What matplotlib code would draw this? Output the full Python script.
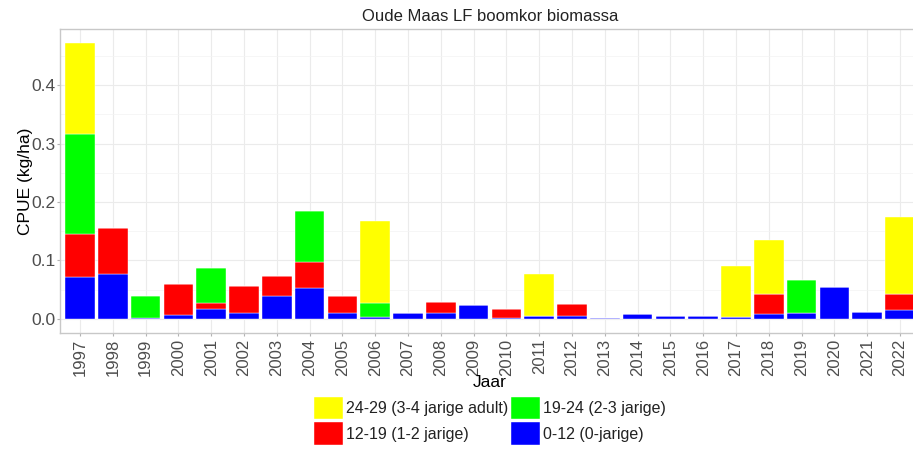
import matplotlib
matplotlib.use("Agg")
import matplotlib.pyplot as plt
import numpy as np

plt.rcParams['font.family'] = ['Liberation Sans', 'DejaVu Sans']

years = list(range(1997, 2023))
# segment values (kg/ha), stacked bottom -> top
blue_0_12 = [0.071, 0.076, 0.002, 0.0065, 0.017, 0.0094, 0.039, 0.053, 0.0106, 0.003,
             0.0106, 0.010, 0.023, 0.002, 0.0048, 0.0043, 0.002, 0.0083, 0.0048, 0.0048,
             0.003, 0.0077, 0.010, 0.055, 0.0117, 0.0158]
red_12_19 = [0.075, 0.080, 0.0, 0.0535, 0.011, 0.0463, 0.0343, 0.045, 0.029, 0.0,
             0.0, 0.0194, 0.0, 0.0143, 0.0, 0.0217, 0.0, 0.0, 0.0, 0.0,
             0.0, 0.0348, 0.0, 0.0, 0.0, 0.0262]
green_19_24 = [0.171, 0.0, 0.0365, 0.0, 0.0585, 0.0, 0.0, 0.087, 0.0, 0.0236,
               0.0, 0.0, 0.0, 0.0, 0.0, 0.0, 0.0, 0.0, 0.0, 0.0,
               0.0, 0.0, 0.057, 0.0, 0.0, 0.0]
yellow_24_29 = [0.155, 0.0, 0.0, 0.0, 0.0, 0.0, 0.0, 0.0, 0.0, 0.141,
                0.0, 0.0, 0.0, 0.0, 0.0726, 0.0, 0.0, 0.0, 0.0, 0.0,
                0.087, 0.0925, 0.0, 0.0, 0.0, 0.132]

series = [
    ("0-12 (0-jarige)", blue_0_12, "#0000FF"),
    ("12-19 (1-2 jarige)", red_12_19, "#FF0000"),
    ("19-24 (2-3 jarige)", green_19_24, "#00FF00"),
    ("24-29 (3-4 jarige adult)", yellow_24_29, "#FFFF00"),
]
yticks = [0.0, 0.1, 0.2, 0.3, 0.4]
ytick_labels = ["0.0", "0.1", "0.2", "0.3", "0.4"]

W, H = 913, 459
fig = plt.figure(figsize=(W / 100, H / 100), dpi=100)
ax = fig.add_axes([60.3 / W, 1 - 332.7 / H, 859.4 / W, 303.4 / H])

x = np.arange(len(years))
bottom = np.zeros(len(years))
handles = {}
for label, vals, col in series:
    v = np.array(vals)
    b = ax.bar(x, v, width=0.9, bottom=bottom, color=col, edgecolor="white",
               linewidth=0.3, label=label, zorder=3)
    handles[label] = b
    bottom += v

total_max = bottom.max()
pad = total_max * 0.05
ax.set_ylim(-pad, total_max + pad)
ax.set_xlim(-0.6, len(years) - 1 + 0.6)

ax.set_yticks(yticks)
ax.set_yticklabels(ytick_labels)
ax.set_yticks(np.arange(0.05, 0.5, 0.1), minor=True)
ax.set_xticks(x)
ax.set_xticklabels([str(y) for y in years], rotation=90)

ax.grid(True, which="major", color="#EBEBEB", linewidth=0.8, zorder=0)
ax.grid(True, which="minor", axis="y", color="#F3F3F3", linewidth=0.5, zorder=0)
ax.set_axisbelow(True)
for s in ax.spines.values():
    s.set_color("#C8C8C8")
    s.set_linewidth(1.0)
ax.tick_params(axis="both", which="major", length=2.2, color="#B3B3B3",
               labelcolor="#4D4D4D", width=0.8)
ax.tick_params(axis="y", labelsize=12.5, pad=1)
ax.tick_params(axis="x", labelsize=12, pad=2)
ax.tick_params(which="minor", length=0)

ax.set_ylabel("CPUE (kg/ha)", fontsize=12.5, color="black")
ax.yaxis.set_label_coords((33 - 60.3) / 859.4, 0.5)
ax.set_xlabel("Jaar", fontsize=12.5, color="black", labelpad=-1)
ax.set_title("Oude Maas LF boomkor biomassa", fontsize=12, color="#222222", pad=6)

order = ["24-29 (3-4 jarige adult)", "12-19 (1-2 jarige)",
         "19-24 (2-3 jarige)", "0-12 (0-jarige)"]
leg = fig.legend([handles[o] for o in order], order, ncol=2, loc="upper center",
                 bbox_to_anchor=(490 / W, 1 - 396.7 / H), frameon=False,
                 fontsize=11.5, handlelength=1.8, handleheight=1.8,
                 handletextpad=0.2, columnspacing=0.2, labelspacing=0.2,
                 borderpad=0, borderaxespad=0)
for t in leg.get_texts():
    t.set_color("#222222")

fig.savefig("out.png", dpi=100)
